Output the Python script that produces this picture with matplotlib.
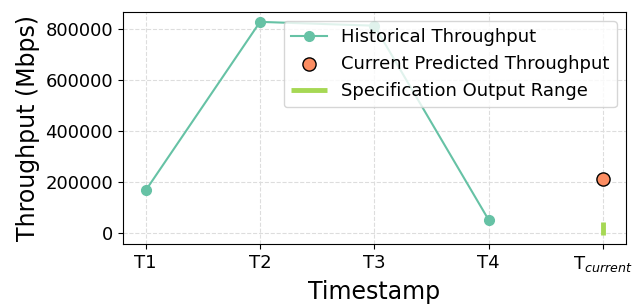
import matplotlib
matplotlib.use("Agg")
import matplotlib.pyplot as plt

timestamps = ["T1", "T2", "T3", "T4"]
historical = [168000, 827000, 812000, 52000]
current_label = "T$_{current}$"
current_pred = 212000
spec_range = [-6000, 44000]

fig, ax = plt.subplots(figsize=(6.4, 3.05), dpi=100)
x_hist = list(range(len(timestamps)))
x_cur = len(timestamps)

ax.plot(x_hist, historical, color="#66c2a5", marker="o", markersize=7, linewidth=1.5,
        label="Historical Throughput", zorder=3)
ax.scatter([x_cur], [current_pred], s=90, color="#fc8d62", edgecolor="black", linewidth=1.0,
           label="Current Predicted Throughput", zorder=4)
ax.plot([x_cur, x_cur], spec_range, color="#a6d854", linewidth=3.5, solid_capstyle="butt",
        label="Specification Output Range", zorder=3)

ax.set_xticks(x_hist + [x_cur])
ax.set_xticklabels(timestamps + [current_label], fontsize=13)
ax.tick_params(axis="y", labelsize=13)
ax.set_xlim(-0.2, 4.2)
ax.set_ylim(-43000, 866000)
ax.set_xlabel("Timestamp", fontsize=17)
ax.set_ylabel("Throughput (Mbps)", fontsize=17)
ax.grid(True, linestyle="--", color="#dddddd", linewidth=0.8)
ax.set_axisbelow(True)
ax.legend(loc="upper right", fontsize=13, handlelength=2.0, framealpha=0.8)

fig.subplots_adjust(left=0.192, right=0.978, top=0.961, bottom=0.199)
fig.savefig("out.png", dpi=100)
